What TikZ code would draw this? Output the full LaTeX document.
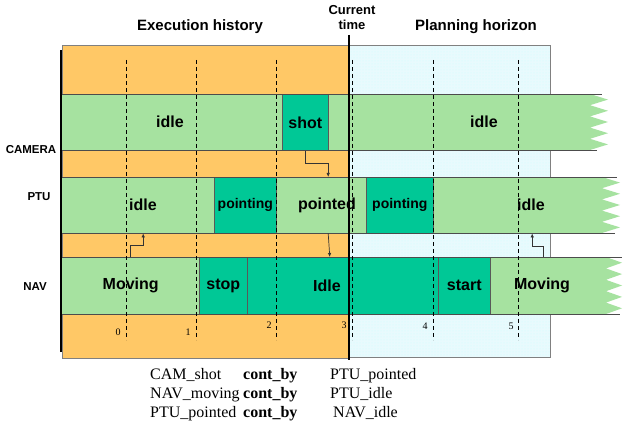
\documentclass[tikz,border=0pt]{standalone}
\usepackage{fontspec}
\setmainfont{Liberation Serif}
\setsansfont{Liberation Sans}
\usetikzlibrary{patterns, arrows.meta}

\definecolor{histbg}{RGB}{255,200,102}
\definecolor{planbg}{RGB}{232,250,253}
\definecolor{litegreen}{RGB}{166,226,160}
\definecolor{darkgreen}{RGB}{0,200,150}

\begin{document}
\begin{tikzpicture}[x=1pt, y=-1pt,
    seg/.style={rectangle, inner sep=0pt, anchor=north west, minimum height=56pt},
    lite/.style={seg, fill=litegreen},
    dark/.style={seg, fill=darkgreen, draw=black!65, line width=0.6pt},
    word/.style={font=\sffamily\bfseries\fontsize{16}{18}\selectfont},
    small/.style={font=\sffamily\bfseries\fontsize{14}{16}\selectfont},
    rowlbl/.style={font=\sffamily\bfseries\fontsize{11.5}{13}\selectfont},
    head/.style={font=\sffamily\bfseries\fontsize{15}{17}\selectfont},
    tick/.style={font=\fontsize{10}{12}\selectfont, inner sep=1pt},
    edge/.style={draw=black!70, line width=0.7pt},
    link/.style={draw=black!80, line width=0.7pt, -{Latex[length=4pt,width=3.5pt]}}]
    \useasboundingbox (0,0) rectangle (624,427);
    \fill[white] (0,0) rectangle (624,427);

    % history and horizon
    \filldraw[fill=histbg, draw=black!50] (62,45) rectangle (349,358);
    \fill[planbg] (349,45) rectangle (550,357);
    \fill[pattern=dots, pattern color=cyan!20] (349,45) rectangle (550,357);
    \draw[black!50] (349,45) -- (550,45) -- (550,357) -- (349,357);

    % CAMERA
    \node [lite, minimum width=220pt] (camIdle) at (62,94) {};
    \node [lite, minimum width=262pt] (camIdleB) at (328,94) {};
    \node [dark, minimum width=46pt, word] (shot) at (282,94) {shot};
    \fill[litegreen] (590,94) \foreach \k in {0,...,4} { -- (608,{99.6+11.2*\k}) -- (590,{105.2+11.2*\k}) } -- cycle;
    \draw[edge] (62,94) -- (602,94);
    \draw[edge] (62,150) -- (597,150);

    % PTU
    \node [lite, minimum width=152pt] (ptuIdle) at (62,177) {};
    \node [lite, minimum width=90pt] (ptuPointed) at (276,177) {};
    \node [lite, minimum width=169pt] (ptuIdleB) at (433,177) {};
    \node [dark, minimum width=62pt, small] (ptuPointing) at (214,177) {pointing};
    \node [dark, minimum width=67pt, small] (ptuPointingB) at (366,177) {pointing};
    \fill[litegreen] (602,177) \foreach \k in {0,...,4} { -- (620,{182.6+11.2*\k}) -- (602,{188.2+11.2*\k}) } -- cycle;
    \draw[edge] (62,177) -- (617,177);
    \draw[edge] (62,233) -- (615,233);

    % NAV
    \node [lite, minimum width=137pt, minimum height=57pt, word] (navMoving) at (62,257) {Moving};
    \node [lite, minimum width=116pt, minimum height=57pt] (navMovingB) at (490,257) {};
    \node [dark, minimum width=48pt, minimum height=57pt, word] (navStop) at (199,257) {stop};
    \node [dark, minimum width=191pt, minimum height=57pt] (navIdle) at (247,257) {};
    \node [dark, minimum width=52pt, minimum height=57pt, word] (navStart) at (438,257) {start};
    \fill[litegreen] (606,257) \foreach \k in {0,...,4} { -- (622,{262.7+11.4*\k}) -- (606,{268.4+11.4*\k}) } -- cycle;
    \draw[edge] (62,257) -- (622,257);
    \draw[edge] (62,314) -- (620,314);

    % labels in the rows
    \node [word] (camIdleTxt) at (170,122) {idle};
    \node [word] (camIdleBTxt) at (484,122) {idle};
    \node [word] (ptuIdleTxt) at (143,205) {idle};
    \node [word] (ptuPointedTxt) at (327,205) {pointed};
    \node [word] (ptuIdleBTxt) at (531,205) {idle};
    \node [word] (navIdleTxt) at (327,285.5) {Idle};
    \node [word] (navMovingBTxt) at (542,285.5) {Moving};

    % time marks
    \foreach \x in {126,196,276,352,433,518}
        \draw[black, line width=0.6pt, dash pattern=on 4pt off 3pt] (\x,60) -- (\x,340);
    \node [tick] (t0) at (118,332) {0};
    \node [tick] (t1) at (188,332) {1};
    \node [tick] (t2) at (269,325) {2};
    \node [tick] (t3) at (344,325) {3};
    \node [tick] (t4) at (425,326) {4};
    \node [tick] (t5) at (511,326) {5};

    \draw[line width=1.5pt] (61,50) -- (61,352);
    \draw[line width=1.5pt] (349,35) -- (349,360);

    % headings
    \node [head] (hist) at (200,27) {Execution history};
    \node [head] (plan) at (476,27) {Planning horizon};
    \node [font=\sffamily\bfseries\fontsize{13}{15}\selectfont, align=center] (now) at (352,18) {Current\\time};
    \node [rowlbl] (camLbl) at (31,150) {CAMERA};
    \node [rowlbl] (ptuLbl) at (39,197) {PTU};
    \node [rowlbl] (navLbl) at (35,287) {NAV};

    % contained-by links
    \draw [link] (shot.south) -- ++(0,13) -| ([xshift=7pt]ptuPointed.north);
    \draw [link] (navMoving.north) -- ++(0,-12) -| ([xshift=5pt]ptuIdle.south);
    \draw [link] ([xshift=7pt]ptuPointed.south) -- ([xshift=-13pt]navIdle.north);
    \draw [link] ([xshift=-5pt]navMovingB.north) -- ++(0,-11) -| ([xshift=14.5pt]ptuIdleB.south);

    \node [anchor=north west, inner sep=0pt, font=\fontsize{16}{19}\selectfont] (rules) at (150,366) {%
        \begin{tabular}{@{}p{93pt}@{}p{87pt}@{}l@{}}
        CAM\_shot & \textbf{cont\_by} & PTU\_pointed\\
        NAV\_moving & \textbf{cont\_by} & PTU\_idle\\
        PTU\_pointed & \textbf{cont\_by} & \hspace{3pt}NAV\_idle
        \end{tabular}};
\end{tikzpicture}
\end{document}
